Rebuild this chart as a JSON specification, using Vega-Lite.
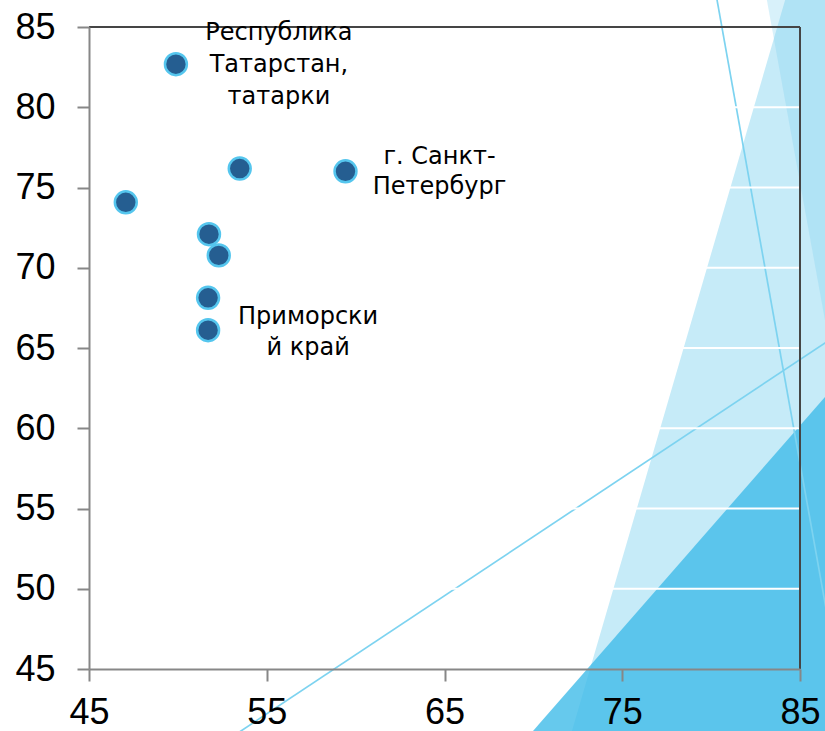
{
  "$schema": "https://vega.github.io/schema/vega-lite/v6.json",
  "width": 711,
  "height": 642,
  "autosize": {"type": "none"},
  "padding": {"left": 89, "top": 27, "right": 25, "bottom": 62},
  "background": "white",
  "view": {"stroke": null},
  "config": {
    "axis": {
      "grid": false,
      "title": null,
      "domainColor": "#878787",
      "domainWidth": 2,
      "tickColor": "#878787",
      "tickWidth": 2,
      "tickSize": 12,
      "labelFont": "Liberation Sans Narrow, Liberation Sans, sans-serif",
      "labelFontSize": 36,
      "labelColor": "#000000",
      "labelOverlap": false,
      "labelFlush": false,
      "labelBound": false
    }
  },
  "datasets": {
    "points": [
      {"x": 49.89, "y": 82.68, "id": "tat", "label": "Республика\nТатарстан,\nтатарки"},
      {"x": 53.48, "y": 76.18, "id": "", "label": ""},
      {"x": 59.43, "y": 76.01, "id": "spb", "label": "г. Санкт-\nПетербург"},
      {"x": 47.07, "y": 74.08, "id": "", "label": ""},
      {"x": 51.75, "y": 72.09, "id": "", "label": ""},
      {"x": 52.30, "y": 70.77, "id": "", "label": ""},
      {"x": 51.70, "y": 68.13, "id": "", "label": ""},
      {"x": 51.70, "y": 66.11, "id": "prim", "label": "Приморски\nй край"}
    ],
    "s2": [{"y": 40, "x": 71.87}, {"y": 88, "x": 84.51}],
    "s1": [{"y": 44.8, "x": 90}, {"y": 88, "x": 82.92}],
    "s3": [{"y": 40, "x": 69.08}, {"y": 66.5, "x": 90}],
    "lines": [
      {"id": "L1", "x": 80.12, "y": 88},
      {"id": "L1", "x": 87.88, "y": 40},
      {"id": "L2", "x": 52.0, "y": 40},
      {"id": "L2", "x": 88, "y": 66.49}
    ],
    "grid": [{"g": 50}, {"g": 55}, {"g": 60}, {"g": 65}, {"g": 70}, {"g": 75}, {"g": 80}]
  },
  "data": {"name": "points"},
  "layer": [
    {
      "data": {"name": "s2"},
      "mark": {"type": "area", "orient": "horizontal", "color": "#C6EBF8", "opacity": 1},
      "encoding": {
        "y": {"field": "y", "type": "quantitative", "scale": {"domain": [45, 85], "nice": false, "zero": false}, "axis": {"values": [45, 50, 55, 60, 65, 70, 75, 80, 85], "labelPadding": 22, "zindex": 2}},
        "x": {"field": "x", "type": "quantitative", "scale": {"domain": [45, 85], "nice": false, "zero": false}, "axis": {"values": [45, 55, 65, 75, 85], "labelPadding": 14, "zindex": 2}},
        "x2": {"datum": 90}
      }
    },
    {
      "data": {"name": "s1"},
      "mark": {"type": "area", "orient": "horizontal", "color": "#7FD0F0", "opacity": 0.3},
      "encoding": {
        "y": {"field": "y", "type": "quantitative"},
        "x": {"field": "x", "type": "quantitative"},
        "x2": {"datum": 90}
      }
    },
    {
      "data": {"name": "s3"},
      "mark": {"type": "area", "orient": "horizontal", "color": "#40BCE8", "opacity": 0.8},
      "encoding": {
        "y": {"field": "y", "type": "quantitative"},
        "x": {"field": "x", "type": "quantitative"},
        "x2": {"datum": 90}
      }
    },
    {
      "data": {"name": "lines"},
      "mark": {"type": "line", "color": "#7DD3F0", "strokeWidth": 1.7},
      "encoding": {
        "x": {"field": "x", "type": "quantitative"},
        "y": {"field": "y", "type": "quantitative"},
        "detail": {"field": "id"}
      }
    },
    {
      "data": {"name": "grid"},
      "mark": {"type": "rule", "color": "#FFFFFF", "strokeWidth": 2},
      "encoding": {
        "y": {"field": "g", "type": "quantitative"}
      }
    },
    {
      "data": {"values": [{}]},
      "mark": {"type": "rule", "color": "#454545", "strokeWidth": 2},
      "encoding": {"y": {"datum": 85}}
    },
    {
      "data": {"values": [{}]},
      "mark": {"type": "rule", "color": "#454545", "strokeWidth": 2},
      "encoding": {"x": {"datum": 85}}
    },
    {
      "mark": {"type": "circle", "size": 480, "fill": "#255E91", "stroke": "#55C6EE", "strokeWidth": 2.5, "opacity": 1},
      "encoding": {
        "x": {"field": "x", "type": "quantitative"},
        "y": {"field": "y", "type": "quantitative"}
      }
    },
    {
      "transform": [{"filter": "datum.id == 'tat'"}],
      "mark": {"type": "text", "font": "DejaVu Sans", "fontSize": 24, "lineHeight": 32, "lineBreak": "\n", "align": "center", "baseline": "middle", "dx": 103, "dy": -31, "color": "#000000"},
      "encoding": {
        "x": {"field": "x", "type": "quantitative"},
        "y": {"field": "y", "type": "quantitative"},
        "text": {"field": "label"}
      }
    },
    {
      "transform": [{"filter": "datum.id == 'spb'"}],
      "mark": {"type": "text", "font": "DejaVu Sans", "fontSize": 24, "lineHeight": 30, "lineBreak": "\n", "align": "center", "baseline": "middle", "dx": 94, "dy": -14, "color": "#000000"},
      "encoding": {
        "x": {"field": "x", "type": "quantitative"},
        "y": {"field": "y", "type": "quantitative"},
        "text": {"field": "label"}
      }
    },
    {
      "transform": [{"filter": "datum.id == 'prim'"}],
      "mark": {"type": "text", "font": "DejaVu Sans", "fontSize": 24, "lineHeight": 31, "lineBreak": "\n", "align": "center", "baseline": "middle", "dx": 100, "dy": -13, "color": "#000000"},
      "encoding": {
        "x": {"field": "x", "type": "quantitative"},
        "y": {"field": "y", "type": "quantitative"},
        "text": {"field": "label"}
      }
    }
  ]
}
